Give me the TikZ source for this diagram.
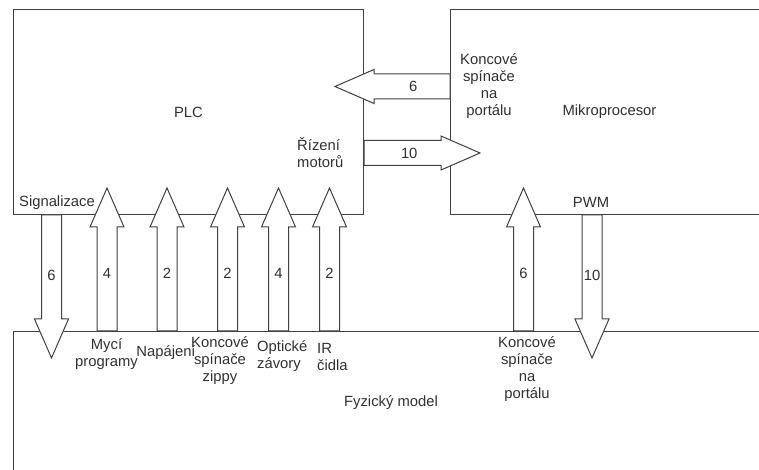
\documentclass[tikz,border=0pt]{standalone}
\usepackage{fontspec}
\setmainfont{Liberation Sans}
\usetikzlibrary{calc,positioning}
\definecolor{linec}{HTML}{404040}
\definecolor{txtc}{HTML}{303030}

\begin{document}
\begin{tikzpicture}[
  x=1pt,y=1pt,
  box/.style={draw=linec, line width=1pt, anchor=south west, inner sep=0pt, font=\fontsize{14.8}{17}\selectfont, text=txtc},
  lbl/.style={align=center, inner sep=0pt, font=\fontsize{14.8}{17}\selectfont, text=txtc},
  shaft/.store in=\fatshaft, shaft=10pt,
  fatarrow/.style={draw=linec, fill=white, line width=1pt, line join=miter,
    to path={($(\tikztotarget)!39pt!(\tikztostart)$) coordinate (fb)
      ($(\tikztostart)!\fatshaft!90:(\tikztotarget)$) -- ($(fb)!\fatshaft!-90:(\tikztostart)$)
      -- ($(fb)!17pt!-90:(\tikztostart)$) -- (\tikztotarget)
      -- ($(fb)!17pt!90:(\tikztostart)$) -- ($(fb)!\fatshaft!90:(\tikztostart)$)
      -- ($(\tikztostart)!\fatshaft!-90:(\tikztotarget)$) -- cycle}}
]
\useasboundingbox (0,0) rectangle (759,470);
\clip (0,0) rectangle (759,470);
% blocks
\node[box, minimum width=350pt, minimum height=205pt] (plc) at (13,255) {PLC};
\node[box, minimum width=318pt, minimum height=205pt] (mikro) at (450,255) {Mikroprocesor};
\node[box, minimum width=755pt, minimum height=142pt] (fyz) at (13,-4) {Fyzický model};
% labels at the blocks
\node[lbl] (kpt) at (489,383.5) {Koncové\\spínače\\na\\portálu};
\node[lbl, align=left, anchor=west] (rizeni) at (297,317) {Řízení\\motorů};
\node[lbl] (pwm) at (591,268) {PWM};
\node[lbl] (signal) at (57,267) {Signalizace};
% signal arrows
\foreach \n/\x in {sig/51.5, myci/107, nap/167, zip/227.5, opt/278.5, ir/329.5, kpd/523.5, pwmx/592}
  \coordinate (\n) at (\x,0);
\foreach \n/\t in {myci/4, nap/2, zip/2, opt/4, ir/2, kpd/6}{
  \path (\n |- fyz.north) coordinate (\n-a) ++(0,143) coordinate (\n-b);
  \draw[fatarrow] (\n-a) to (\n-b);
  \node[lbl] at ($(\n-a)!0.4!(\n-b)$) {\t};
}
\foreach \n/\src/\t in {sig/plc/6, pwmx/mikro/10}{
  \path (\n |- \src.south) coordinate (\n-a) ++(0,-143) coordinate (\n-b);
  \draw[fatarrow] (\n-a) to (\n-b);
  \node[lbl] at ($(\n-a)!0.42!(\n-b)$) {\t};
}
\foreach \n/\src/\dx/\t/\p in {kpt/mikro.west/-115/6/0.32, rizeni/plc.east/116/10/0.39}{
  \path (\src |- \n) coordinate (\n-a) ++(\dx,0) coordinate (\n-b);
  \draw[fatarrow, shaft=12.5pt] (\n-a) to (\n-b);
  \node[lbl] at ($(\n-a)!\p!(\n-b)$) {\t};
}
% labels at the model
\node[lbl] (mycilbl) at (106.5,115.5) {Mycí\\programy};
\node[lbl] (naplbl) at (166,117) {Napájení};
\node[lbl] (ziplbl) at (220,109.5) {Koncové\\spínače\\zippy};
\node[lbl, align=left, anchor=west] (optlbl) at (257,113.5) {Optické\\závory};
\node[lbl, align=left, anchor=west] (irlbl) at (317,113.5) {IR\\čidla};
\node[lbl] (kpdlbl) at (527,101) {Koncové\\spínače\\na\\portálu};
\end{tikzpicture}
\end{document}
